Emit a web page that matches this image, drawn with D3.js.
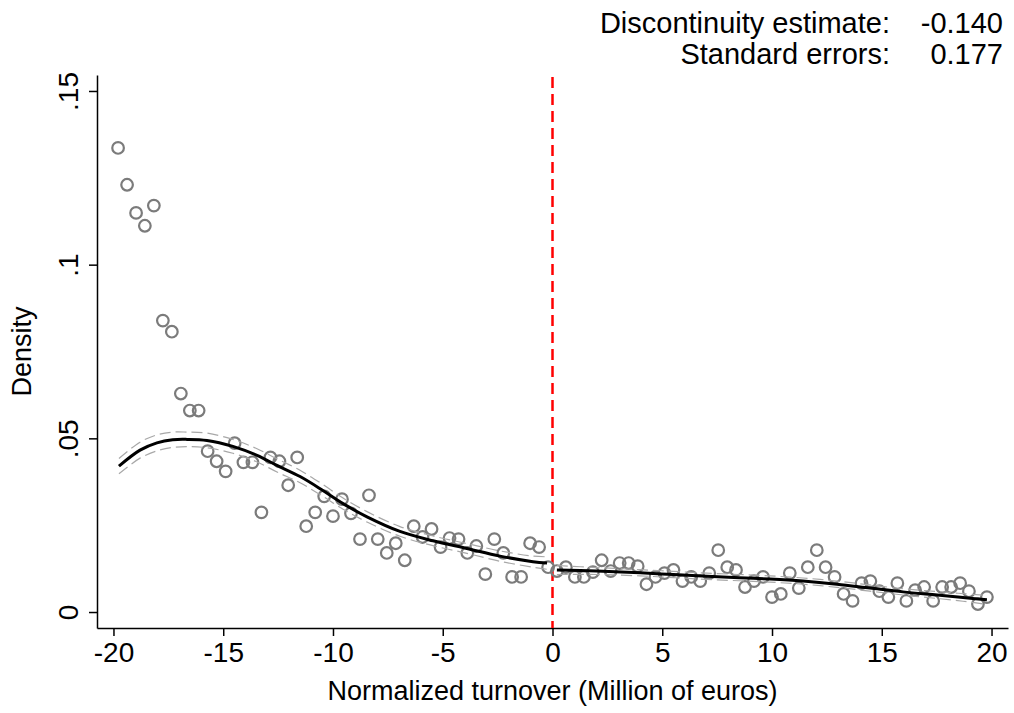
<!DOCTYPE html>
<html>
<head>
<meta charset="utf-8">
<script src="https://cdn.jsdelivr.net/npm/d3@7"></script>
<style>
  body { margin: 0; background: #fff; }
  text { font-family: "Liberation Sans", Arial, sans-serif; fill: #000; }
</style>
</head>
<body>
<div id="chart"></div>
<script>
// binned density, left of the cutoff
var binXLeft = [-19.79, -19.38, -18.97, -18.57, -18.16, -17.75, -17.34, -16.93, -16.52, -16.12,
  -15.71, -15.30, -14.89, -14.48, -14.08, -13.67, -13.26, -12.85, -12.44, -12.04,
  -11.63, -11.22, -10.81, -10.40, -10.00, -9.59, -9.18, -8.77, -8.36, -7.96,
  -7.55, -7.14, -6.73, -6.32, -5.92, -5.51, -5.10, -4.69, -4.28, -3.88,
  -3.47, -3.06, -2.65, -2.24, -1.84, -1.43, -1.02, -0.61, -0.20];
var binYLeft = [0.1336, 0.1230, 0.1149, 0.1112, 0.1170, 0.0839, 0.0807, 0.0629, 0.0580, 0.0580,
  0.0463, 0.0434, 0.0405, 0.0486, 0.0431, 0.0431, 0.0287, 0.0445, 0.0434, 0.0365,
  0.0445, 0.0247, 0.0287, 0.0333, 0.0276, 0.0325, 0.0284, 0.0210, 0.0336, 0.0210,
  0.0170, 0.0198, 0.0149, 0.0247, 0.0216, 0.0239, 0.0187, 0.0213, 0.0210, 0.0170,
  0.0190, 0.0109, 0.0210, 0.0170, 0.0101, 0.0101, 0.0198, 0.0187, 0.0129];

// binned density, right of the cutoff
var binXRight = [0.20, 0.61, 1.02, 1.43, 1.84, 2.24, 2.65, 3.06, 3.47, 3.88,
  4.28, 4.69, 5.10, 5.51, 5.92, 6.32, 6.73, 7.14, 7.55, 7.96,
  8.36, 8.77, 9.18, 9.59, 10.00, 10.40, 10.81, 11.22, 11.63, 12.04,
  12.44, 12.85, 13.26, 13.67, 14.08, 14.48, 14.89, 15.30, 15.71, 16.12,
  16.52, 16.93, 17.34, 17.75, 18.16, 18.57, 18.97, 19.38, 19.79];
var binYRight = [0.0118, 0.0129, 0.0101, 0.0101, 0.0115, 0.0149, 0.0118, 0.0141, 0.0141, 0.0132,
  0.0080, 0.0101, 0.0112, 0.0121, 0.0089, 0.0101, 0.0089, 0.0112, 0.0178, 0.0129,
  0.0121, 0.0072, 0.0089, 0.0101, 0.0043, 0.0052, 0.0112, 0.0069, 0.0129, 0.0178,
  0.0129, 0.0101, 0.0052, 0.0032, 0.0083, 0.0089, 0.0060, 0.0043, 0.0083, 0.0032,
  0.0063, 0.0072, 0.0032, 0.0072, 0.0072, 0.0083, 0.0060, 0.0023, 0.0043];

// fitted density and confidence band
var fitXLeft = [-19.75, -18.79, -18.02, -17.30, -16.65, -15.74, -14.56, -13.46, -12.55, -11.50,
  -10.46, -9.54, -8.45, -6.95, -5.44, -3.90, -2.39, -0.89, -0.25];
var fitYLeft = [0.0420, 0.0466, 0.0487, 0.0496, 0.0497, 0.0494, 0.0477, 0.0451, 0.0422, 0.0390,
  0.0350, 0.0312, 0.0274, 0.0232, 0.0205, 0.0183, 0.0161, 0.0145, 0.0141];
var fitLoLeft = [0.0398, 0.0443, 0.0464, 0.0474, 0.0476, 0.0473, 0.0457, 0.0432, 0.0403, 0.0372,
  0.0333, 0.0296, 0.0259, 0.0218, 0.0191, 0.0169, 0.0146, 0.0129, 0.0123];
var fitHiLeft = [0.0442, 0.0489, 0.0510, 0.0518, 0.0518, 0.0515, 0.0497, 0.0470, 0.0441, 0.0408,
  0.0367, 0.0328, 0.0289, 0.0246, 0.0219, 0.0197, 0.0176, 0.0161, 0.0159];

var fitXRight = [0.20, 2.00, 3.99, 5.50, 7.04, 8.50, 9.91, 11.41, 12.96, 14.46, 15.97, 17.52, 18.70, 19.79];
var fitYRight = [0.0121, 0.0118, 0.0113, 0.0108, 0.0103, 0.0099, 0.0095, 0.0089, 0.0080, 0.0069, 0.0058, 0.0049, 0.0042, 0.0035];
var fitLoRight = [0.0108, 0.0108, 0.0104, 0.0099, 0.0094, 0.0090, 0.0086, 0.0080, 0.0071, 0.0060, 0.0049, 0.0039, 0.0031, 0.0022];
var fitHiRight = [0.0134, 0.0128, 0.0122, 0.0117, 0.0112, 0.0108, 0.0104, 0.0098, 0.0089, 0.0078, 0.0067, 0.0059, 0.0053, 0.0048];

var xTicks = [-20, -15, -10, -5, 0, 5, 10, 15, 20];
var xTickLabels = ["-20", "-15", "-10", "-5", "0", "5", "10", "15", "20"];
var yTicks = [0, 0.05, 0.1, 0.15];
var yTickLabels = ["0", ".05", ".1", ".15"];
var statLabels = ["Discontinuity estimate:", "Standard errors:"];
var statValues = ["-0.140", "0.177"];

var width = 1014, height = 713;
var mLeft = 97, mRight = 1008, mTop = 75, mBottom = 628;

var svg = d3.select("#chart").append("svg")
  .attr("width", width)
  .attr("height", height)
  .style("background", "#fff");

var x = d3.scaleLinear().domain([-20.75, 20.75]).range([mLeft, mRight]);
var y = d3.scaleLinear().domain([-0.0046, 0.1546]).range([mBottom, mTop]);

// axes
var xAxis = svg.append("g")
  .attr("transform", "translate(0," + mBottom + ")")
  .call(d3.axisBottom(x).tickValues(xTicks).tickSize(8).tickPadding(6).tickSizeOuter(0)
    .tickFormat(function (d, i) { return xTickLabels[i]; }));
var yAxis = svg.append("g")
  .attr("transform", "translate(" + mLeft + ",0)")
  .call(d3.axisLeft(y).tickValues(yTicks).tickSize(8).tickSizeOuter(0)
    .tickFormat(function (d, i) { return yTickLabels[i]; }));

[xAxis, yAxis].forEach(function (g) {
  g.select(".domain").attr("stroke", "#000").attr("stroke-width", 1.5);
  g.selectAll(".tick line").attr("stroke", "#000").attr("stroke-width", 1.5);
  g.selectAll("text").attr("font-size", 28).attr("font-family", "Liberation Sans, Arial, sans-serif").attr("fill", "#000");
});

// rotate y tick labels like Stata does
yAxis.selectAll(".tick text")
  .attr("x", null).attr("dy", null)
  .attr("text-anchor", "middle")
  .attr("transform", "translate(-19,0) rotate(-90)");

// axis titles
svg.append("text")
  .attr("x", (mLeft + mRight) / 2)
  .attr("y", 700)
  .attr("text-anchor", "middle")
  .attr("font-size", 27)
  .text("Normalized turnover (Million of euros)");

svg.append("text")
  .attr("transform", "translate(31," + ((mTop + mBottom) / 2) + ") rotate(-90)")
  .attr("text-anchor", "middle")
  .attr("font-size", 27)
  .text("Density");

// cutoff
svg.append("line")
  .attr("x1", x(0)).attr("x2", x(0))
  .attr("y1", mTop + 2).attr("y2", mBottom)
  .attr("stroke", "#ff0000")
  .attr("stroke-width", 2.5)
  .attr("stroke-dasharray", "11,6");

// bins
function drawBins(xs, ys) {
  svg.append("g").selectAll("circle")
    .data(xs)
    .enter()
    .append("circle")
    .attr("cx", function (d) { return x(d); })
    .attr("cy", function (d, i) { return y(ys[i]); })
    .attr("r", 5.8)
    .attr("fill", "none")
    .attr("stroke", "#7b7b7b")
    .attr("stroke-width", 2.2);
}
drawBins(binXLeft, binYLeft);
drawBins(binXRight, binYRight);

// fitted lines
var line = d3.line()
  .x(function (d) { return x(d[0]); })
  .y(function (d) { return y(d[1]); })
  .curve(d3.curveCatmullRom.alpha(0.5));

function drawFit(xs, ys, lo, hi) {
  [lo, hi].forEach(function (band) {
    svg.append("path")
      .attr("d", line(d3.zip(xs, band)))
      .attr("fill", "none")
      .attr("stroke", "#a8a8a8")
      .attr("stroke-width", 1.2)
      .attr("stroke-dasharray", "11,5");
  });
  svg.append("path")
    .attr("d", line(d3.zip(xs, ys)))
    .attr("fill", "none")
    .attr("stroke", "#000")
    .attr("stroke-width", 3);
}
drawFit(fitXLeft, fitYLeft, fitLoLeft, fitHiLeft);
drawFit(fitXRight, fitYRight, fitLoRight, fitHiRight);

// estimate box
statLabels.forEach(function (s, i) {
  svg.append("text")
    .attr("x", 890).attr("y", 33 + i * 31)
    .attr("text-anchor", "end")
    .attr("font-size", 29)
    .text(s);
  svg.append("text")
    .attr("x", 1003).attr("y", 33 + i * 31)
    .attr("text-anchor", "end")
    .attr("font-size", 29)
    .text(statValues[i]);
});
</script>
</body>
</html>
